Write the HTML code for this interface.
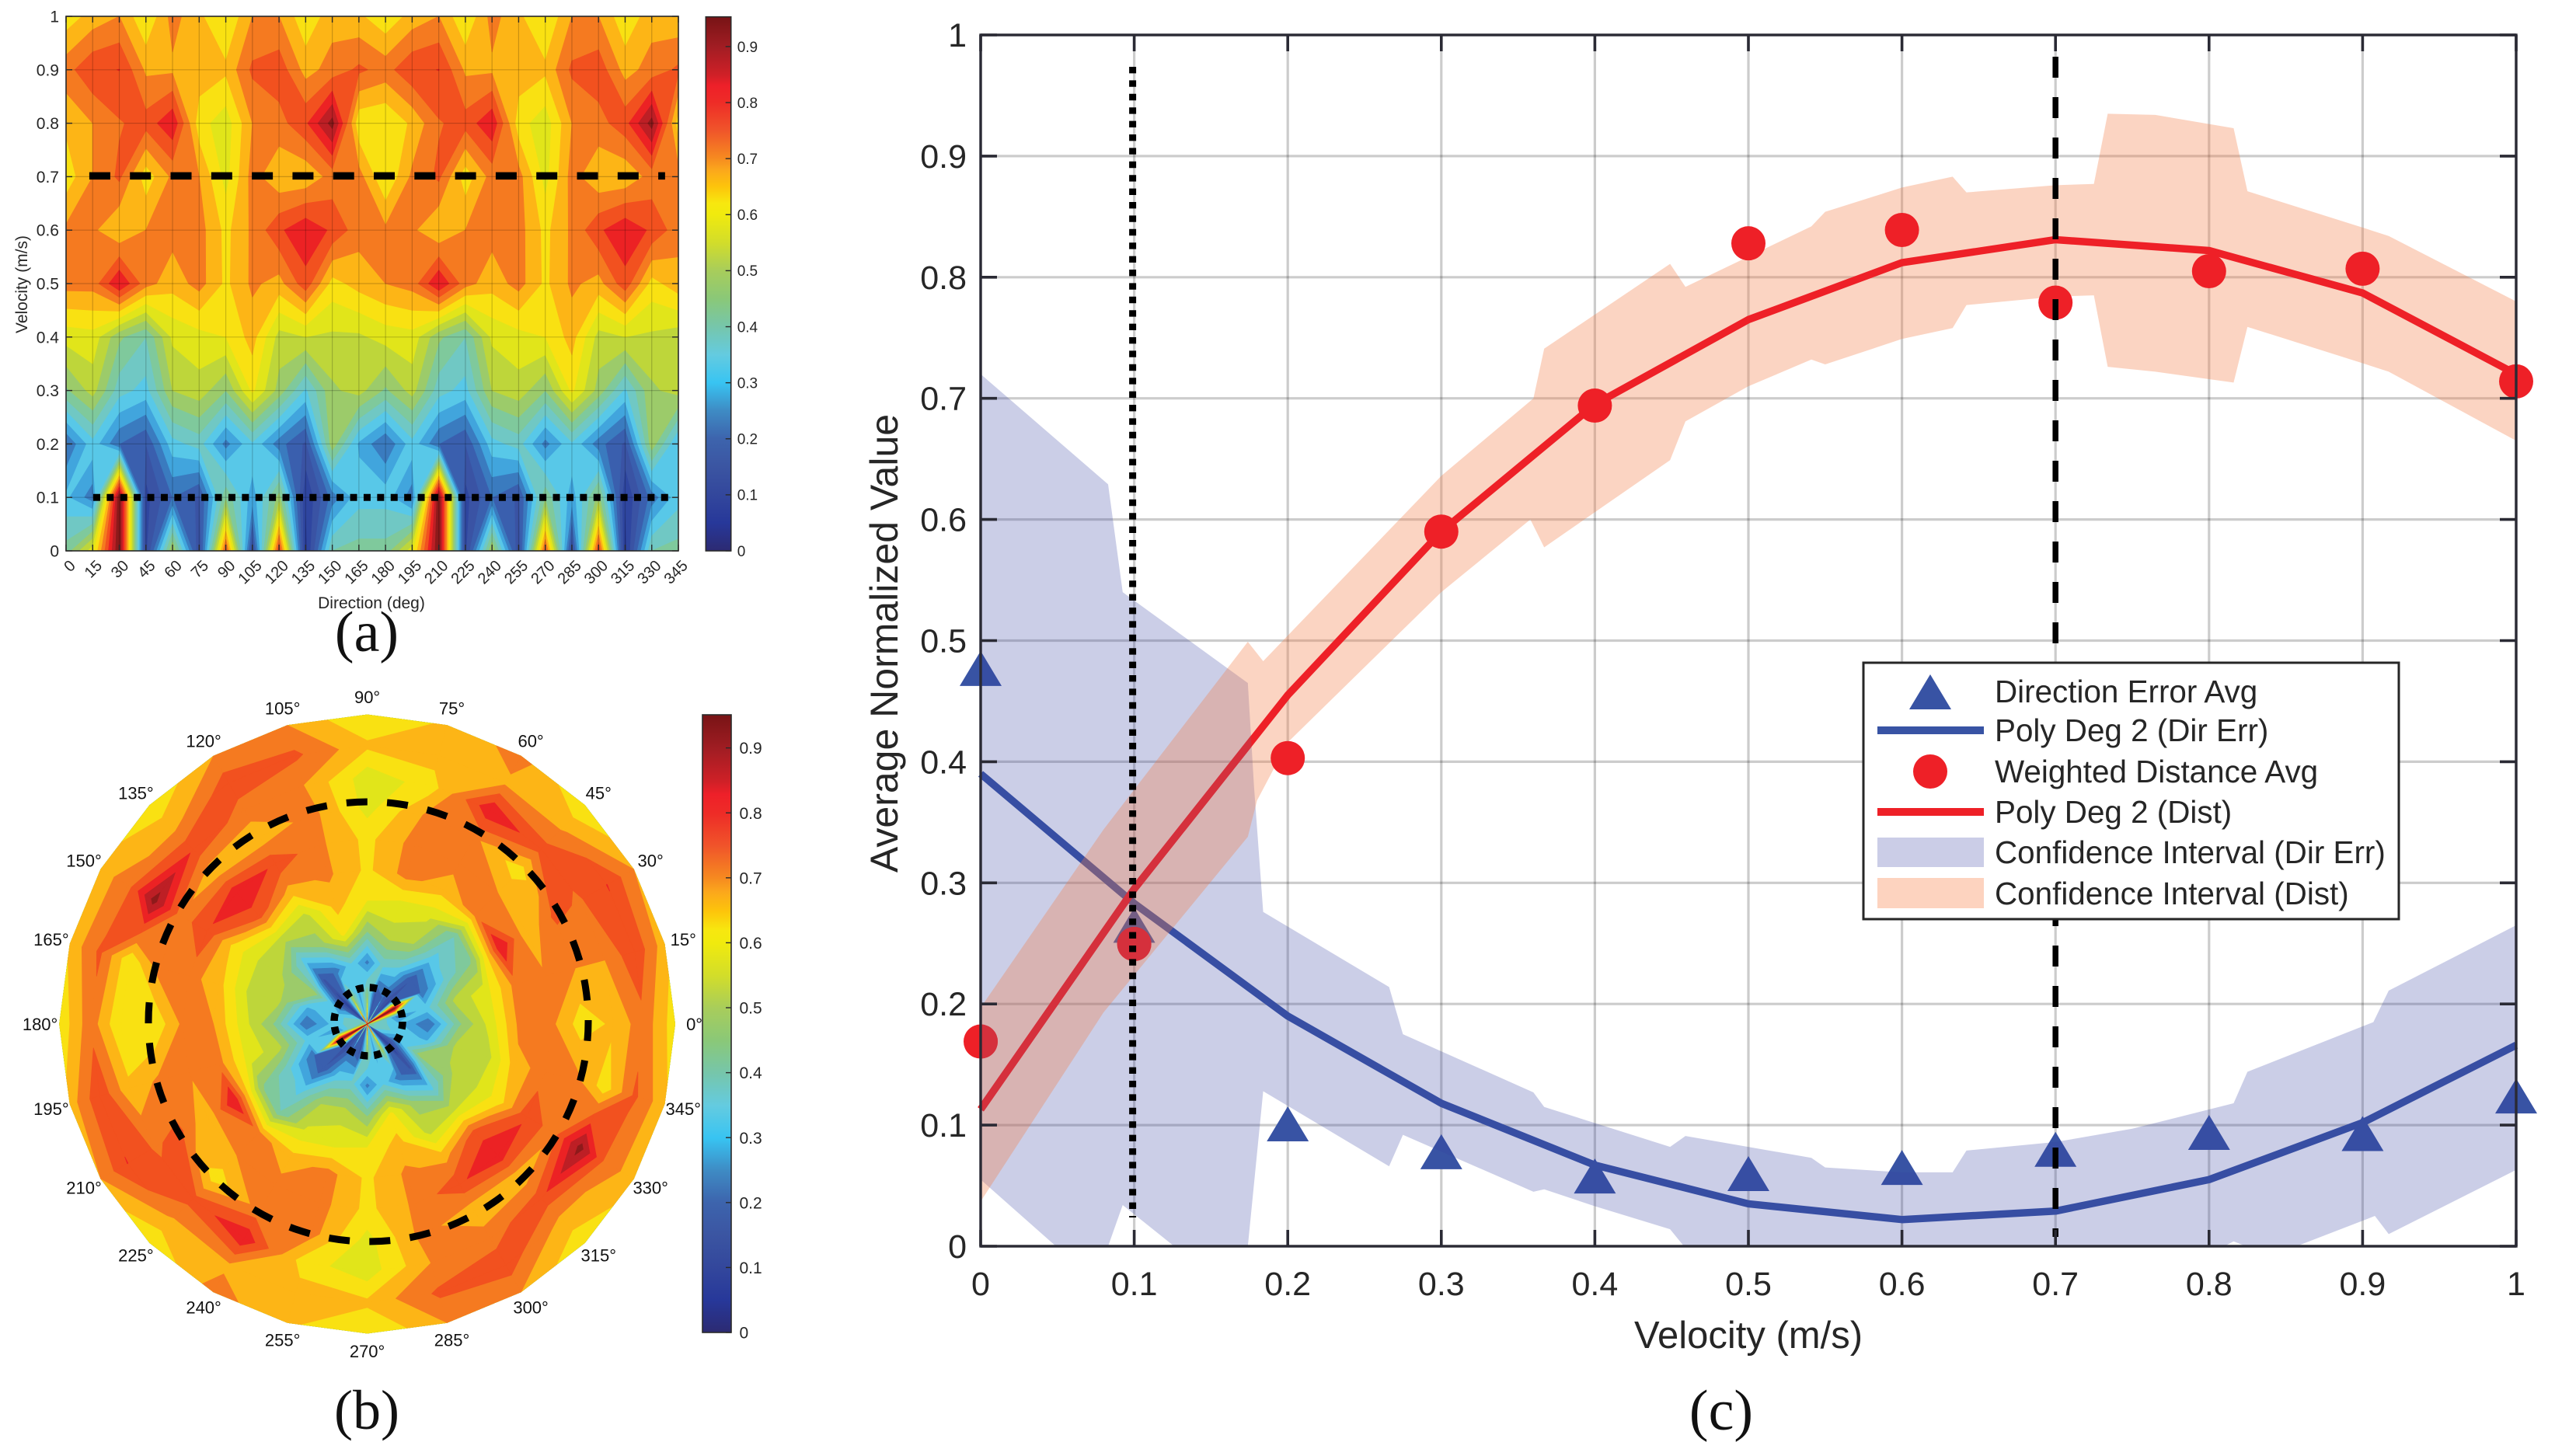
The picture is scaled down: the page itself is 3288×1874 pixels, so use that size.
<!DOCTYPE html>
<html lang="en">
<head>
<meta charset="utf-8">
<title>Velocity and direction performance charts</title>
<style>
html,body{margin:0;padding:0;background:#fff;width:3288px;height:1874px;overflow:hidden}
svg{display:block}
text{font-family:"Liberation Sans",Arial,sans-serif;fill:#262626}
.serif{font-family:"Liberation Serif","Times New Roman",serif;fill:#111}
</style>
</head>
<body>
<svg id="figure" xmlns="http://www.w3.org/2000/svg" width="3288" height="1874" viewBox="0 0 3288 1874">
  <defs>
    <linearGradient id="cbar-gradient" x1="0" y1="1" x2="0" y2="0"></linearGradient>
    <clipPath id="clip-c"><rect x="1262" y="45" width="1976" height="1559"></rect></clipPath>
    <clipPath id="clip-dir-band"><polygon id="clip-dir-band-shape" points="0,0"></polygon></clipPath>
  </defs>
  <rect x="0" y="0" width="3288" height="1874" fill="#fff"></rect>

  <g id="panel-a"></g>
  <g id="panel-b"></g>
  <g id="panel-c"></g>

  <text transform="translate(35 366) rotate(-90)" text-anchor="middle" font-size="21">Velocity (m/s)</text>
  <text x="478" y="783" text-anchor="middle" font-size="21">Direction (deg)</text>
  <text class="serif" x="472" y="838" text-anchor="middle" font-size="74">(a)</text>
  <text class="serif" x="472" y="1839" text-anchor="middle" font-size="72">(b)</text>
  <text class="serif" x="2215" y="1840" text-anchor="middle" font-size="74">(c)</text>
  <text x="2250" y="1735" text-anchor="middle" font-size="49">Velocity (m/s)</text>
  <text transform="translate(1155 828) rotate(-90)" text-anchor="middle" font-size="50">Average Normalized Value</text>

  <g id="legend">
    <rect x="2398" y="853" width="689" height="330" fill="#fff" stroke="#262626" stroke-width="3"></rect>
    <polygon points="2484,868 2511,913 2457,913" fill="#3853a4"></polygon>
    <text x="2567" y="904" font-size="40.4">Direction Error Avg</text>
    <rect x="2416" y="935" width="137" height="10" fill="#3853a4"></rect>
    <text x="2567" y="954" font-size="40.4">Poly Deg 2 (Dir Err)</text>
    <circle cx="2484" cy="993" r="22" fill="#ee2027"></circle>
    <text x="2567" y="1007" font-size="40.4">Weighted Distance Avg</text>
    <rect x="2416" y="1040" width="137" height="10" fill="#ee2027"></rect>
    <text x="2567" y="1059" font-size="40.4">Poly Deg 2 (Dist)</text>
    <rect x="2416" y="1078" width="137" height="38" fill="#cbcde7"></rect>
    <text x="2567" y="1111" font-size="40.4">Confidence Interval (Dir Err)</text>
    <rect x="2416" y="1130" width="137" height="39" fill="#fdd3bf"></rect>
    <text x="2567" y="1164" font-size="40.4">Confidence Interval (Dist)</text>
  </g>
</svg>

<script>
/* ---------- contour data: one row per velocity, one value per direction ---------- */
const directions = [0,15,30,45,60,75,90,105,120,135,150,165,180,195,210,225,240,255,270,285,300,315,330,345];
const velocities = [0,0.1,0.2,0.3,0.4,0.5,0.6,0.7,0.8,0.9,1];
const gridV00 = [.42,.58,.95,.08,.50,.10,.77,.10,.80,.03,.40,.42,.42,.58,.95,.08,.50,.10,.77,.10,.80,.03,.40,.42];
const gridV01 = [.31,.22,.95,.08,.20,.14,.44,.27,.47,.05,.22,.33,.33,.22,.95,.08,.20,.14,.44,.27,.47,.05,.22,.33];
const gridV02 = [.20,.33,.20,.15,.33,.37,.23,.34,.22,.14,.48,.29,.20,.33,.20,.15,.33,.37,.23,.34,.22,.14,.48,.29];
const gridV03 = [.44,.52,.37,.33,.50,.53,.45,.61,.48,.34,.49,.52,.44,.52,.37,.33,.50,.53,.45,.61,.48,.34,.49,.52];
const gridV04 = [.57,.58,.46,.40,.56,.58,.60,.67,.53,.55,.54,.54,.57,.58,.46,.40,.56,.58,.60,.67,.53,.55,.54,.52];
const gridV05 = [.72,.72,.85,.72,.67,.72,.638,.71,.68,.78,.63,.67,.70,.72,.85,.72,.67,.72,.638,.71,.68,.78,.63,.68];
const gridV06 = [.71,.71,.65,.70,.72,.72,.635,.71,.79,.84,.79,.72,.71,.71,.65,.70,.72,.72,.635,.71,.79,.84,.79,.72];
const gridV07 = [.62,.70,.76,.62,.71,.70,.58,.72,.66,.66,.72,.72,.60,.71,.76,.62,.72,.72,.58,.72,.66,.66,.72,.72];
const gridV08 = [.66,.70,.745,.77,.84,.62,.57,.70,.73,.79,.92,.61,.60,.66,.745,.77,.84,.62,.57,.70,.73,.78,.92,.62];
const gridV09 = [.73,.79,.801,.69,.69,.68,.66,.76,.78,.68,.72,.76,.73,.79,.801,.69,.69,.68,.66,.76,.78,.68,.72,.76];
const gridV10 = [.62,.67,.70,.60,.72,.66,.60,.70,.70,.61,.68,.66,.61,.67,.70,.60,.72,.66,.60,.70,.70,.61,.68,.66];
const gridRows = [gridV00,gridV01,gridV02,gridV03,gridV04,gridV05,gridV06,gridV07,gridV08,gridV09,gridV10];
const levelStep = 0.05;
const bandColors = ["#26348f","#2f46a0","#3a53a4","#3a5fae","#3a7bbf","#41a5dd","#58c8e8","#70c8c4","#7fc99c","#9ccb6a","#bed63a","#e1e51a","#f9e112","#fdb516","#f57a20","#f2511f","#ec2224","#bd1f25","#8e1a1b"];

const velocityTickLabels = ["0","0.1","0.2","0.3","0.4","0.5","0.6","0.7","0.8","0.9","1"];
const colorbarTicks = [0,0.1,0.2,0.3,0.4,0.5,0.6,0.7,0.8,0.9];
const colorbarTickLabels = ["0","0.1","0.2","0.3","0.4","0.5","0.6","0.7","0.8","0.9"];
const colorbarStopValues = [0,.05,.1,.15,.2,.25,.3,.35,.4,.45,.5,.55,.6,.62,.65,.68,.7,.75,.8,.83,.85,.9,.95];
const colorbarStopColors = ["#2c2a72","#27389a","#33479c","#3b55a2","#3d64ad","#3e8bc4","#38c4f2","#64cbe0","#76c6ab","#8ac878","#a8cd5b","#d2dd2a","#f0ea0e","#f7e80f","#fdc40b","#fba71c","#f68b20","#f0552a","#ee2c27","#ee2029","#cf2027","#a11d23","#7a1416"];

/* ---------- reference lines on the contour panels ---------- */
const slowVelocity = 0.1;
const fastVelocity = 0.7;

/* ---------- panel c series ---------- */
const velocityAxis = [0,0.1,0.2,0.3,0.4,0.5,0.6,0.7,0.8,0.9,1];
const directionErrorAvg = [.477,.265,.101,.078,.058,.06,.065,.08,.094,.093,.124];
const weightedDistanceAvg = [.169,.2495,.403,.59,.694,.828,.839,.779,.805,.807,.714];
const polyDirErr = [.39,.283,.19,.118,.067,.035,.022,.029,.055,.102,.166];
const polyDist = [.113,.295,.455,.59,.695,.765,.812,.831,.822,.787,.72];
const ciDistUpperX = [0,.08,.174,.184,.3,.36,.367,.449,.459,.541,.55,.6,.633,.642,.7,.725,.734,.765,.816,.825,.9,.917,1];
const ciDistUpperY = [.197,.344,.499,.483,.636,.70,.741,.811,.792,.842,.854,.874,.883,.87,.876,.877,.935,.934,.923,.871,.841,.834,.78];
const ciDistLowerX = [0,.08,.174,.18,.2,.3,.358,.367,.449,.459,.5,.541,.55,.6,.633,.642,.7,.725,.734,.765,.816,.825,.9,.917,1];
const ciDistLowerY = [.037,.193,.338,.368,.416,.54,.6,.577,.649,.681,.71,.732,.728,.749,.758,.777,.784,.785,.726,.722,.713,.759,.729,.722,.665];
const ciDirUpperX = [0,.083,.0925,.1,.174,.178,.184,.266,.275,.36,.367,.449,.459,.541,.55,.6,.633,.642,.7,.75,.816,.825,.907,.917,1];
const ciDirUpperY = [.72,.629,.54,.533,.465,.38,.276,.214,.175,.127,.115,.082,.091,.073,.065,.061,.061,.079,.086,.097,.118,.144,.185,.211,.265];
const ciDirLowerX = [0,.049,.083,.0925,.126,.174,.184,.266,.275,.36,.367,.4,.449,.458,.81,.816,.824,.857,.908,.917,1];
const ciDirLowerY = [.055,0,0,.034,0,0,.128,.066,.092,.045,.047,.033,.014,0,0,.004,0,0,.025,.01,.063];
const xTickLabelsC = ["0","0.1","0.2","0.3","0.4","0.5","0.6","0.7","0.8","0.9","1"];
const yTickLabelsC = ["0","0.1","0.2","0.3","0.4","0.5","0.6","0.7","0.8","0.9","1"];

/* ---------- helpers ---------- */
const NS = "http://www.w3.org/2000/svg";
function make(tag, attrs, parent) {
  const node = document.createElementNS(NS, tag);
  for (const k in attrs) node.setAttribute(k, attrs[k]);
  parent.appendChild(node);
  return node;
}
function clipAbove(poly, level) {
  const out = [];
  for (let i = 0; i < poly.length; i++) {
    const a = poly[i], b = poly[(i + 1) % poly.length];
    const aIn = a[2] >= level, bIn = b[2] >= level;
    if (aIn) out.push(a);
    if (aIn !== bIn) {
      const t = (level - a[2]) / (b[2] - a[2]);
      out.push([a[0] + t * (b[0] - a[0]), a[1] + t * (b[1] - a[1]), level]);
    }
  }
  return out;
}
function polyPath(pts) {
  return "M" + pts.map(p => p[0].toFixed(1) + " " + p[1].toFixed(1)).join("L") + "Z";
}
function drawContour(parent, colCount, project, bandName) {
  const cells = [];
  for (let r = 0; r < gridRows.length - 1; r++) {
    for (let c = 0; c < colCount; c++) {
      const c2 = (c + 1) % directions.length;
      cells.push([
        project(c, r).concat(gridRows[r][c]),
        project(c + 1, r).concat(gridRows[r][c2]),
        project(c + 1, r + 1).concat(gridRows[r + 1][c2]),
        project(c, r + 1).concat(gridRows[r + 1][c])
      ]);
    }
  }
  bandColors.forEach((color, idx) => {
    const level = idx * levelStep;
    let d = "";
    cells.forEach(cell => {
      const poly = clipAbove(cell, level);
      if (poly.length >= 3) d += polyPath(poly);
    });
    const band = make("path", {d: d, fill: color, stroke: color, "stroke-width": 0.8, "stroke-linejoin": "round"}, parent);
    
    
  });
}
function drawColorbar(parent, left, right, topY, bottomY, topValue, labelX, fontSize) {
  const yOf = v => bottomY - (v / topValue) * (bottomY - topY);
  const bar = make("rect", {x: left, y: topY, width: right - left, height: bottomY - topY, fill: "url(#cbar-gradient)", stroke: "#2a2a2a", "stroke-width": 1.6}, parent);
  
  
  colorbarTicks.forEach((v, i) => {
    const tick = make("line", {x1: right - 7, x2: right, y1: yOf(v), y2: yOf(v), stroke: "#2a2a2a", "stroke-width": 1.4}, parent);
    
    
    const label = make("text", {x: labelX, y: yOf(v) + fontSize * 0.36, "font-size": fontSize}, parent);
    label.textContent = colorbarTickLabels[i];
    
    
  });
}

/* colorbar gradient */
const gradient = document.getElementById("cbar-gradient");
colorbarStopValues.forEach((v, i) => {
  make("stop", {offset: (v / 0.953 * 100).toFixed(2) + "%", "stop-color": colorbarStopColors[i]}, gradient);
});

/* ---------- panel a ---------- */
const panelA = document.getElementById("panel-a");
const aLeft = 85, aRight = 873, aTop = 21, aBottom = 709;
const aX = deg => aLeft + (deg / 345) * (aRight - aLeft);
const aY = v => aBottom - v * (aBottom - aTop);
drawContour(panelA, directions.length - 1, (c, r) => [aX(c * 15), aY(r / 10)], 'contour-band');
velocities.forEach((v, i) => {
  const g = make("line", {x1: aLeft, x2: aRight, y1: aY(v), y2: aY(v), stroke: "#000", "stroke-opacity": 0.2, "stroke-width": 1.2}, panelA);
  
  
  const tl = make("line", {x1: aLeft, x2: aLeft + 8, y1: aY(v), y2: aY(v), stroke: "#2a2a2a", "stroke-width": 1.4}, panelA);
  
  
  const tr = make("line", {x1: aRight - 8, x2: aRight, y1: aY(v), y2: aY(v), stroke: "#2a2a2a", "stroke-width": 1.4}, panelA);
  
  
  const t = make("text", {x: 76, y: aY(v) + 7.5, "text-anchor": "end", "font-size": 21}, panelA);
  t.textContent = velocityTickLabels[i];
  
  
});
directions.forEach(d => {
  const g = make("line", {x1: aX(d), x2: aX(d), y1: aTop, y2: aBottom, stroke: "#000", "stroke-opacity": 0.2, "stroke-width": 1.2}, panelA);
  
  
  const tb = make("line", {x1: aX(d), x2: aX(d), y1: aBottom - 8, y2: aBottom, stroke: "#2a2a2a", "stroke-width": 1.4}, panelA);
  
  
  const tt = make("line", {x1: aX(d), x2: aX(d), y1: aTop, y2: aTop + 8, stroke: "#2a2a2a", "stroke-width": 1.4}, panelA);
  
  
  const t = make("text", {"text-anchor": "end", "dominant-baseline": "central", "font-size": 20, transform: "translate(" + (aX(d) + 9) + " 725) rotate(-45)"}, panelA);
  t.textContent = String(d);
  
  
});
const aBox = make("rect", {x: aLeft, y: aTop, width: aRight - aLeft, height: aBottom - aTop, fill: "none", stroke: "#2a2a2a", "stroke-width": 1.6}, panelA);


const aFast = make("line", {x1: aX(13.1), x2: aX(337.5), y1: aY(fastVelocity) - 1, y2: aY(fastVelocity) - 1, stroke: "#000", "stroke-width": 9.5, "stroke-dasharray": "27 25.3"}, panelA);


const aSlow = make("line", {x1: aX(15.3), x2: aX(339.6), y1: aY(slowVelocity), y2: aY(slowVelocity), stroke: "#000", "stroke-width": 9, "stroke-dasharray": "9 8.4"}, panelA);


drawColorbar(panelA, 908.3, 940.7, 21.7, 709, 0.953, 948.7, 19);

/* ---------- panel b ---------- */
const panelB = document.getElementById("panel-b");
const bCx = 472.6, bCy = 1318, bRx = 396, bRy = 398, labelRadius = 421;
const bPoint = (deg, v) => {
  const a = deg * Math.PI / 180;
  return [bCx + v * bRx * Math.cos(a), bCy - v * bRy * Math.sin(a)];
};
drawContour(panelB, directions.length, (c, r) => bPoint(c * 15, r / 10), 'polar-contour-band');
directions.forEach(d => {
  const a = d * Math.PI / 180;
  const t = make("text", {x: bCx + labelRadius * Math.cos(a), y: bCy - labelRadius * Math.sin(a) + 8, "text-anchor": "middle", "font-size": 22, style: "fill:#111"}, panelB);
  t.textContent = d + "\u00B0";
  
  
});
const bFast = make("circle", {cx: 474, cy: 1315, r: fastVelocity * 404.3, fill: "none", stroke: "#000", "stroke-width": 9, "stroke-dasharray": "27 25.3", "stroke-dashoffset": 2.2}, panelB);


const bSlow = make("circle", {cx: 474, cy: 1315, r: slowVelocity * 440, fill: "none", stroke: "#000", "stroke-width": 9.5, "stroke-dasharray": "9.5 7.9"}, panelB);


drawColorbar(panelB, 904, 941, 920, 1715, 0.951, 951.5, 21);

/* ---------- panel c ---------- */
const panelC = document.getElementById("panel-c");
const cLeft = 1262, cRight = 3238, cTop = 45, cBottom = 1604;
const cX = v => cLeft + v * (cRight - cLeft);
const cY = v => cBottom - v * (cBottom - cTop);
velocityAxis.forEach((v, i) => {
  const gv = make("line", {x1: cX(v), x2: cX(v), y1: cTop, y2: cBottom, stroke: "#000", "stroke-opacity": 0.2, "stroke-width": 3.2}, panelC);
  
  
  const gh = make("line", {x1: cLeft, x2: cRight, y1: cY(v), y2: cY(v), stroke: "#000", "stroke-opacity": 0.2, "stroke-width": 3.2}, panelC);
  
  
  const xl = make("text", {x: cX(v), y: 1667, "text-anchor": "middle", "font-size": 43}, panelC);
  xl.textContent = xTickLabelsC[i];
  
  
  const yl = make("text", {x: 1244, y: cY(v) + 15, "text-anchor": "end", "font-size": 43}, panelC);
  yl.textContent = yTickLabelsC[i];
  
  
});
function bandPoints(ux, uy, lx, ly) {
  const top = ux.map((x, i) => cX(x) + "," + cY(uy[i]));
  const bottom = lx.map((x, i) => cX(x) + "," + cY(ly[i])).reverse();
  return top.concat(bottom).join(" ");
}
const dirBandPoints = bandPoints(ciDirUpperX, ciDirUpperY, ciDirLowerX, ciDirLowerY);
document.getElementById("clip-dir-band-shape").setAttribute("points", dirBandPoints);
const triW = 27, triH = 22.5;
directionErrorAvg.forEach((v, i) => {
  const x = cX(velocityAxis[i]), y = cY(v);
  const m = make("polygon", {points: x + "," + (y - triH) + " " + (x + triW) + "," + (y + triH) + " " + (x - triW) + "," + (y + triH), fill: "#3853a4"}, panelC);
  
  
});
const lineDir = make("polyline", {points: polyDirErr.map((v, i) => cX(velocityAxis[i]) + "," + cY(v)).join(" "), fill: "none", stroke: "#3853a4", "stroke-width": 9.5, "stroke-linejoin": "round"}, panelC);


const bandDir = make("polygon", {points: dirBandPoints, fill: "#3541a4", "fill-opacity": 0.26, "clip-path": "url(#clip-c)"}, panelC);


const bandDist = make("polygon", {points: bandPoints(ciDistUpperX, ciDistUpperY, ciDistLowerX, ciDistLowerY), fill: "#f47b46", "fill-opacity": 0.33, "clip-path": "url(#clip-c)"}, panelC);


/* red series: drawn pure, then again in its muted tone where the blue band covers it */
function drawRedSeries(parent, color, lineName, markerName) {
  const line = make("polyline", {points: polyDist.map((v, i) => cX(velocityAxis[i]) + "," + cY(v)).join(" "), fill: "none", stroke: color, "stroke-width": 9.5, "stroke-linejoin": "round"}, parent);
  
  
  weightedDistanceAvg.forEach((v, i) => {
    const m = make("circle", {cx: cX(velocityAxis[i]), cy: cY(v), r: 22, fill: color}, parent);
    
    
  });
}
drawRedSeries(panelC, "#ee2027", 'poly-fit-weighted-distance', 'weighted-distance-marker');
const mutedGroup = make("g", {"clip-path": "url(#clip-dir-band)"}, panelC);


drawRedSeries(mutedGroup, "#d5303c", 'poly-fit-weighted-distance-muted', 'weighted-distance-marker-muted');
const refSlow = make("line", {x1: cX(slowVelocity) - 2, x2: cX(slowVelocity) - 2, y1: 86, y2: 1567, stroke: "#000", "stroke-width": 9, "stroke-dasharray": "8.4 9"}, panelC);


const refFast = make("line", {x1: cX(fastVelocity), x2: cX(fastVelocity), y1: 73, y2: 1592, stroke: "#000", "stroke-width": 7.5, "stroke-dasharray": "27 25"}, panelC);


velocityAxis.forEach(v => {
  [[cX(v), cBottom - 21, cX(v), cBottom], [cX(v), cTop, cX(v), cTop + 21], [cLeft, cY(v), cLeft + 21, cY(v)], [cRight - 21, cY(v), cRight, cY(v)]].forEach(s => {
    const tick = make("line", {x1: s[0], y1: s[1], x2: s[2], y2: s[3], stroke: "#2a2a34", "stroke-width": 3.6}, panelC);
    
    
  });
});
const cBox = make("rect", {x: cLeft, y: cTop, width: cRight - cLeft, height: cBottom - cTop, fill: "none", stroke: "#2a2a34", "stroke-width": 3.4}, panelC);


</script>
</body>
</html>
